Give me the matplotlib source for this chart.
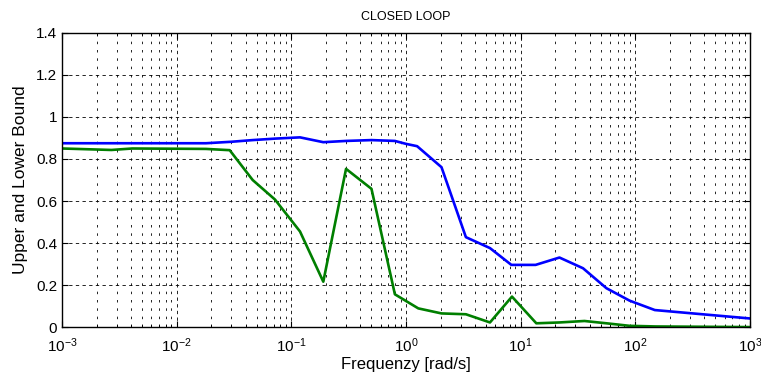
import matplotlib.pyplot as plt
from matplotlib.ticker import LogLocator, NullFormatter

plt.rcParams['font.family'] = ['Liberation Sans', 'DejaVu Sans']

# frequency grid [rad/s] and bounds
freq_upper = [0.001, 0.0055, 0.018, 0.03, 0.046, 0.072, 0.119, 0.19, 0.3, 0.5, 0.8,
              1.0, 1.25, 2.04, 3.33, 5.4, 8.3, 13.5, 21.8, 35, 56, 89, 148, 1000]
upper = [0.875, 0.875, 0.875, 0.882, 0.89, 0.897, 0.903, 0.88, 0.886, 0.89, 0.886,
         0.872, 0.861, 0.761, 0.428, 0.376, 0.296, 0.296, 0.331, 0.28, 0.185, 0.126, 0.081, 0.041]

freq_lower = [0.001, 0.0027, 0.0041, 0.018, 0.029, 0.046, 0.072, 0.119, 0.19, 0.3, 0.5, 0.8,
              1.28, 2.04, 3.33, 5.4, 8.4, 13.7, 21.8, 36, 56, 89, 150, 1000]
lower = [0.85, 0.843, 0.85, 0.848, 0.842, 0.70, 0.607, 0.455, 0.216, 0.753, 0.658, 0.156,
         0.089, 0.065, 0.061, 0.022, 0.145, 0.018, 0.022, 0.029, 0.018, 0.006, 0.003, 0.0]

fig = plt.figure(figsize=(7.61, 3.83), dpi=100)
ax = fig.add_axes([0.0815, 0.146, 0.904, 0.768])

ax.semilogx(freq_upper, upper, color='#0000ff', lw=1.9)
ax.semilogx(freq_lower, lower, color='#007f00', lw=1.9)

ax.set_xlim(1e-3, 1e3)
ax.set_ylim(0, 1.4)
ax.set_yticks([0, 0.2, 0.4, 0.6, 0.8, 1.0, 1.2, 1.4])
ax.set_yticklabels(['0', '0.2', '0.4', '0.6', '0.8', '1', '1.2', '1.4'])
ax.xaxis.set_major_locator(LogLocator(base=10, numticks=10))
ax.xaxis.set_minor_locator(LogLocator(base=10, subs=range(2, 10), numticks=20))
ax.xaxis.set_minor_formatter(NullFormatter())

ax.grid(True, which='major', axis='both', color='black', ls=(0, (4, 4)), lw=0.6)
ax.grid(True, which='minor', axis='x', color='black', ls=(0, (3, 7)), lw=0.6)

ax.tick_params(which='both', direction='in', top=True, right=True, labelsize=11)
ax.tick_params(axis='x', which='major', pad=7)
ax.tick_params(which='major', length=4)
ax.tick_params(which='minor', length=2)
for s in ax.spines.values():
    s.set_linewidth(1.0)

ax.set_title('CLOSED LOOP', fontsize=9, pad=9)
ax.set_xlabel('Frequenzy [rad/s]', fontsize=12, labelpad=1)
ax.set_ylabel('Upper and Lower Bound', fontsize=12.5, labelpad=6)

fig.savefig('out.png', dpi=100)
